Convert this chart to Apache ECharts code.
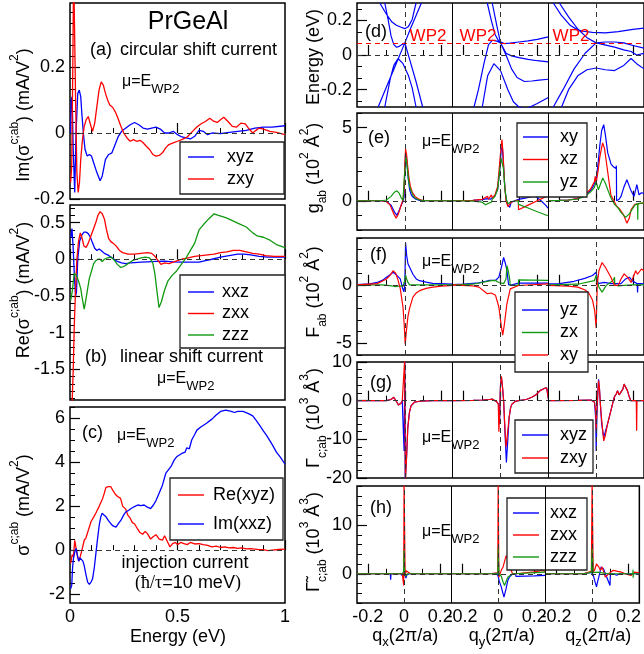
<!DOCTYPE html>
<html>
<head>
<meta charset="utf-8">
<script src="https://cdn.jsdelivr.net/npm/echarts@6.0.0/dist/echarts.min.js"></script>
<style>
  html, body { margin: 0; padding: 0; background: #fff; }
  #chart { width: 644px; height: 654px; }
</style>
</head>
<body>
<div id="chart"></div>
<script>
// ---------- tick values ----------
const energyTicks = [0, 0.5, 1];
const imTicks = [-0.2, 0, 0.2];
const reTicks = [-1.5, -1, -0.5, 0, 0.5];
const injTicks = [-2, 0, 2, 4, 6];
const bandTicks = [-0.2, 0, 0.2];
const gTicks = [0, 5];
const fTicks = [-5, 0];
const gammaTicks = [-20, -10, 0, 10];
const gammaTildeTicks = [0, 10];
const qTicks = [-0.2, 0, 0.2];
const qMinor = [-0.1, 0.1];
const cutNames = ['x', 'y', 'z'];
const wp2Energy = 0.07;

// ---------- (a) circular shift current, [E (eV), value] ----------
const aXyz = [[0.002,0.0],[0.006,0.1],[0.01,0.11],[0.015,-0.05],[0.022,-0.18],[0.028,0.0],[0.036,0.12],[0.043,0.13],[0.05,0.11],[0.055,0.06],[0.062,0.0],[0.07,-0.05],[0.08,-0.07],[0.09,-0.065],[0.1,-0.07],[0.11,-0.09],[0.125,-0.12],[0.14,-0.145],[0.15,-0.13],[0.165,-0.08],[0.18,-0.065],[0.195,-0.06],[0.21,-0.035],[0.225,-0.01],[0.24,0.005],[0.26,0.015],[0.28,0.025],[0.3,0.032],[0.32,0.025],[0.34,0.015],[0.36,0.012],[0.38,0.015],[0.4,0.018],[0.42,0.012],[0.44,0.0],[0.46,0.0],[0.48,0.005],[0.5,-0.005],[0.52,-0.012],[0.54,-0.015],[0.56,-0.018],[0.58,-0.01],[0.6,0.008],[0.62,0.005],[0.64,-0.005],[0.66,0.0],[0.7,-0.002],[0.74,0.002],[0.78,0.005],[0.82,0.008],[0.86,0.015],[0.9,0.018],[0.94,0.018],[1.0,0.022]];
const aZxy = [[0.003,-0.15],[0.008,-0.1],[0.013,0.2],[0.017,0.5],[0.021,0.5],[0.026,0.1],[0.032,-0.12],[0.038,-0.18],[0.044,-0.15],[0.05,-0.08],[0.058,-0.02],[0.066,0.02],[0.075,0.04],[0.085,0.05],[0.092,0.045],[0.1,0.015],[0.105,0.005],[0.115,0.03],[0.125,0.08],[0.135,0.13],[0.145,0.155],[0.155,0.145],[0.165,0.12],[0.175,0.1],[0.185,0.085],[0.198,0.078],[0.21,0.065],[0.22,0.05],[0.237,0.02],[0.25,0.0],[0.265,-0.015],[0.28,-0.025],[0.295,-0.02],[0.31,-0.025],[0.325,-0.022],[0.338,-0.028],[0.355,-0.04],[0.37,-0.05],[0.385,-0.065],[0.4,-0.07],[0.415,-0.068],[0.43,-0.06],[0.445,-0.045],[0.46,-0.035],[0.48,-0.03],[0.5,-0.025],[0.52,-0.02],[0.545,-0.012],[0.57,0.005],[0.59,0.018],[0.61,0.028],[0.63,0.035],[0.65,0.045],[0.67,0.035],[0.685,0.032],[0.7,0.04],[0.715,0.048],[0.735,0.035],[0.755,0.02],[0.775,0.018],[0.795,0.03],[0.815,0.028],[0.83,0.015],[0.85,0.0],[0.865,0.008],[0.88,0.015],[0.9,0.012],[0.93,0.005],[0.96,0.002],[1.0,-0.005]];

// ---------- (b) linear shift current ----------
const bXxz = [[0.004,0.3],[0.009,0.42],[0.014,0.2],[0.02,-0.2],[0.026,-0.5],[0.03,-0.45],[0.036,0.0],[0.045,0.25],[0.055,0.33],[0.065,0.37],[0.075,0.37],[0.085,0.35],[0.095,0.3],[0.105,0.22],[0.115,0.15],[0.125,0.12],[0.135,0.14],[0.145,0.12],[0.16,0.08],[0.175,0.06],[0.19,0.03],[0.205,0.0],[0.22,-0.03],[0.24,-0.05],[0.26,-0.06],[0.28,-0.05],[0.3,-0.045],[0.33,-0.04],[0.36,-0.035],[0.4,-0.03],[0.44,-0.025],[0.48,-0.035],[0.52,-0.04],[0.56,-0.04],[0.6,-0.04],[0.63,-0.02],[0.66,0.0],[0.7,0.03],[0.74,0.05],[0.78,0.07],[0.81,0.07],[0.84,0.06],[0.88,0.04],[0.92,0.03],[0.96,0.03],[1.0,0.03]];
const bZxx = [[0.01,-1.95],[0.015,-1.5],[0.02,-0.9],[0.026,-0.4],[0.032,0.0],[0.04,0.25],[0.048,0.36],[0.055,0.3],[0.065,0.18],[0.075,0.16],[0.085,0.22],[0.095,0.3],[0.11,0.42],[0.12,0.5],[0.13,0.6],[0.14,0.65],[0.15,0.62],[0.16,0.55],[0.17,0.4],[0.18,0.28],[0.19,0.24],[0.2,0.22],[0.215,0.18],[0.23,0.12],[0.245,0.09],[0.27,0.07],[0.3,0.07],[0.33,0.08],[0.36,0.09],[0.38,0.08],[0.395,0.04],[0.41,-0.02],[0.423,-0.07],[0.44,-0.05],[0.46,-0.06],[0.48,-0.04],[0.5,-0.02],[0.52,0.0],[0.55,0.02],[0.58,0.04],[0.61,0.05],[0.64,0.06],[0.67,0.07],[0.7,0.09],[0.73,0.1],[0.76,0.12],[0.79,0.12],[0.82,0.1],[0.85,0.08],[0.88,0.07],[0.91,0.05],[0.95,0.04],[1.0,0.04]];
const bZzz = [[0.003,-0.56],[0.01,-0.45],[0.02,-0.19],[0.03,-0.22],[0.04,-0.3],[0.05,-0.4],[0.058,-0.55],[0.066,-0.68],[0.074,-0.55],[0.082,-0.4],[0.09,-0.26],[0.098,-0.18],[0.11,-0.06],[0.12,-0.02],[0.13,0.0],[0.14,0.0],[0.15,-0.03],[0.16,0.0],[0.175,0.02],[0.19,0.03],[0.205,-0.01],[0.22,-0.07],[0.235,-0.11],[0.25,-0.1],[0.27,-0.06],[0.29,-0.02],[0.31,0.0],[0.33,0.02],[0.35,0.03],[0.37,0.02],[0.385,-0.05],[0.395,-0.2],[0.405,-0.45],[0.414,-0.66],[0.425,-0.58],[0.44,-0.42],[0.455,-0.3],[0.475,-0.22],[0.496,-0.16],[0.515,-0.08],[0.54,0.02],[0.56,0.12],[0.58,0.22],[0.6,0.4],[0.62,0.47],[0.645,0.55],[0.67,0.62],[0.69,0.6],[0.71,0.58],[0.73,0.56],[0.76,0.52],[0.79,0.48],[0.82,0.44],[0.85,0.36],[0.87,0.32],[0.9,0.3],[0.93,0.26],[0.96,0.2],[1.0,0.16]];

// ---------- (c) injection current ----------
const cReXyz = [[0.003,-0.6],[0.01,-0.2],[0.016,-0.3],[0.022,0.45],[0.028,0.1],[0.035,-0.3],[0.042,-0.5],[0.05,-0.2],[0.058,0.1],[0.066,0.45],[0.074,0.55],[0.085,0.9],[0.098,1.3],[0.11,1.5],[0.121,1.7],[0.136,2.0],[0.152,2.35],[0.16,2.6],[0.167,2.85],[0.18,2.88],[0.19,2.88],[0.2,2.7],[0.21,2.55],[0.22,2.45],[0.235,2.35],[0.245,2.0],[0.26,1.85],[0.268,1.6],[0.28,1.45],[0.29,1.25],[0.3,1.2],[0.315,0.95],[0.325,0.8],[0.338,0.72],[0.35,0.85],[0.36,0.75],[0.375,0.5],[0.385,0.6],[0.4,0.7],[0.415,0.5],[0.43,0.45],[0.44,0.65],[0.455,0.35],[0.465,0.15],[0.477,0.3],[0.49,0.35],[0.5,0.25],[0.515,0.35],[0.53,0.3],[0.545,0.25],[0.56,0.35],[0.58,0.28],[0.6,0.3],[0.62,0.25],[0.64,0.22],[0.66,0.15],[0.68,0.18],[0.7,0.12],[0.72,0.15],[0.74,0.1],[0.76,0.12],[0.78,0.08],[0.8,0.1],[0.82,0.06],[0.84,0.07],[0.86,0.05],[0.88,0.02],[0.9,0.02],[0.92,-0.02],[0.94,0.0],[0.97,0.03],[1.0,0.05]];
const cImXxz = [[0.003,-1.75],[0.008,-1.6],[0.012,-0.8],[0.016,-0.38],[0.022,-0.1],[0.028,0.08],[0.034,-0.2],[0.04,-0.5],[0.046,-0.35],[0.052,-0.3],[0.06,-0.5],[0.066,-0.7],[0.074,-1.1],[0.082,-1.45],[0.09,-1.55],[0.098,-1.45],[0.105,-1.3],[0.113,-0.8],[0.121,-0.1],[0.128,0.5],[0.136,1.14],[0.143,1.5],[0.149,1.67],[0.158,1.6],[0.167,1.52],[0.178,1.35],[0.19,1.2],[0.2,1.1],[0.214,1.05],[0.225,1.2],[0.237,1.36],[0.25,1.6],[0.26,1.74],[0.272,1.8],[0.284,1.89],[0.3,1.98],[0.315,2.05],[0.33,2.02],[0.345,2.05],[0.36,1.95],[0.375,1.89],[0.388,2.05],[0.4,2.25],[0.415,2.6],[0.43,2.95],[0.44,3.3],[0.446,3.5],[0.455,3.45],[0.47,3.8],[0.485,4.1],[0.496,4.24],[0.505,4.15],[0.52,4.39],[0.535,4.45],[0.543,4.65],[0.555,4.6],[0.566,5.0],[0.58,5.25],[0.59,5.45],[0.61,5.6],[0.635,5.76],[0.66,5.95],[0.68,6.14],[0.7,6.3],[0.725,6.36],[0.75,6.3],[0.765,6.25],[0.78,6.3],[0.805,6.3],[0.83,6.2],[0.85,6.1],[0.865,5.9],[0.88,5.7],[0.9,5.4],[0.915,5.2],[0.94,4.8],[0.96,4.45],[0.98,4.2],[1.0,3.9]];

// ---------- (d) bands along qx, qy, qz, each band [[q, E (eV)], ...] ----------
const bandsQx = [
  [[-0.136,0.3],[-0.1,0.235],[-0.07,0.19],[-0.046,0.172],[-0.02,0.16],[0,0.152],[0.02,0.165],[0.04,0.205],[0.061,0.3]],
  [[-0.145,-0.3],[-0.1,-0.185],[-0.05,-0.058],[0,0.07],[0.03,0.15],[0.06,0.225],[0.09,0.3]],
  [[-0.109,0.3],[-0.09,0.2],[-0.075,0.11],[-0.06,0.06],[-0.045,0.045],[-0.03,0.05],[-0.015,0.06],[0,0.07],[0.03,-0.04],[0.06,-0.15],[0.097,-0.3]],
  [[-0.109,-0.3],[-0.08,-0.14],[-0.06,-0.06],[-0.037,-0.02],[-0.01,-0.05],[0.02,-0.12],[0.04,-0.19],[0.061,-0.3]]
];
const bandsQy = [
  [[-0.072,0.3],[-0.05,0.2],[-0.03,0.12],[-0.01,0.08],[0.02,0.066],[0.05,0.068],[0.1,0.075],[0.15,0.082],[0.2,0.09],[0.26,0.105]],
  [[-0.045,0.3],[-0.02,0.17],[0,0.07],[0.03,0.01],[0.06,-0.005],[0.1,-0.015],[0.15,-0.025],[0.2,-0.033],[0.26,-0.04]],
  [[-0.144,-0.3],[-0.12,-0.2],[-0.09,-0.05],[-0.065,0.06],[-0.045,0.085],[-0.02,0.08],[0,0.07],[0.03,0.0],[0.06,-0.08],[0.09,-0.13],[0.13,-0.153],[0.17,-0.15],[0.21,-0.145],[0.26,-0.14]],
  [[-0.099,-0.3],[-0.07,-0.12],[-0.036,-0.05],[0,-0.09],[0.04,-0.2],[0.07,-0.27],[0.1,-0.3],[0.14,-0.31],[0.2,-0.28],[0.26,-0.245]]
];
const bandsQz = [
  [[-0.233,0.3],[-0.19,0.23],[-0.14,0.17],[-0.1,0.145],[-0.07,0.137],[-0.02,0.13],[0.05,0.128],[0.12,0.135],[0.2,0.148],[0.26,0.155]],
  [[-0.2,0.3],[-0.15,0.22],[-0.1,0.15],[-0.05,0.1],[0,0.07],[0.04,0.06],[0.1,0.045],[0.15,0.03],[0.19,0.02],[0.22,0.0],[0.26,0.01]],
  [[-0.233,-0.3],[-0.18,-0.2],[-0.12,-0.08],[-0.06,0.01],[0,0.07],[0.05,0.075],[0.1,0.075],[0.15,0.07],[0.2,0.055],[0.26,0.04]],
  [[-0.188,-0.3],[-0.15,-0.2],[-0.1,-0.12],[-0.05,-0.085],[0,-0.075],[0.05,-0.085],[0.1,-0.09],[0.15,-0.06],[0.19,-0.02],[0.22,-0.05],[0.26,-0.08]]
];

// ---------- (e) g_ab along qx, qy, qz ----------
const eXy = [
  [[-0.26,0],[-0.14,0],[-0.1,-0.05],[-0.075,-0.3],[-0.055,-0.8],[-0.043,-1.0],[-0.032,-0.7],[-0.02,-0.3],[-0.01,-0.05],[-0.004,0.3],[0.0,2.0],[0.004,3.2],[0.01,2.8],[0.018,1.6],[0.026,0.75],[0.035,0.4],[0.044,0.25],[0.06,0.1],[0.08,0.03],[0.12,0],[0.26,0]],
  [[-0.26,0],[-0.15,0.02],[-0.1,0.08],[-0.07,0.15],[-0.055,0.1],[-0.045,0.2],[-0.03,0.35],[-0.015,0.8],[-0.005,2.0],[0.004,3.5],[0.01,3.7],[0.016,2.5],[0.024,0.8],[0.032,0.0],[0.04,-0.3],[0.05,-0.45],[0.058,-0.1],[0.068,0.0],[0.098,0.1],[0.14,0.2],[0.188,0.34],[0.22,0.0],[0.245,-0.3],[0.258,-0.5]],
  [[-0.26,0],[-0.2,0.02],[-0.15,0.05],[-0.1,0.15],[-0.062,0.4],[-0.03,0.7],[-0.015,1.0],[-0.005,1.3],[0.0,1.5],[0.01,2.5],[0.02,3.8],[0.03,4.8],[0.041,5.2],[0.05,4.5],[0.063,3.27],[0.081,2.5],[0.095,2.3],[0.108,2.2],[0.11,2.4],[0.111,0.0],[0.125,0.1],[0.135,0.3],[0.15,0.9],[0.167,1.44],[0.18,1.0],[0.189,0.7],[0.206,0.3],[0.221,1.1],[0.233,0.4],[0.246,0.55],[0.26,0.5]]
];
const eXz = [
  [[-0.26,0],[-0.13,0],[-0.1,-0.05],[-0.08,-0.3],[-0.06,-0.9],[-0.047,-1.19],[-0.035,-0.9],[-0.022,-0.4],[-0.012,0.0],[-0.005,0.5],[0.0,2.5],[0.004,3.55],[0.01,3.1],[0.016,2.3],[0.022,1.6],[0.03,1.0],[0.04,0.6],[0.055,0.3],[0.07,0.15],[0.09,0.05],[0.12,0],[0.26,0]],
  [[-0.26,0],[-0.15,0.02],[-0.1,0.1],[-0.07,0.3],[-0.065,0.1],[-0.05,0.4],[-0.045,0.5],[-0.044,0.2],[-0.03,0.4],[-0.015,1.0],[-0.005,2.5],[0.004,3.8],[0.008,4.18],[0.014,3.2],[0.022,1.2],[0.03,0.0],[0.04,-0.4],[0.05,-0.5],[0.058,-0.1],[0.068,0.0],[0.097,0.05],[0.098,-0.62],[0.15,-0.3],[0.2,0.0],[0.25,0.3],[0.258,0.5]],
  [[-0.26,0],[-0.2,0.02],[-0.15,0.05],[-0.1,0.15],[-0.062,0.4],[-0.03,0.8],[-0.01,1.3],[-0.005,1.67],[0.0,1.2],[0.01,2.0],[0.02,3.0],[0.035,3.95],[0.045,3.6],[0.055,2.7],[0.07,1.3],[0.08,0.4],[0.1,-0.1],[0.11,-0.35],[0.13,-0.6],[0.15,-1.0],[0.167,-1.53],[0.18,-1.2],[0.19,-0.6],[0.21,-0.25],[0.235,-0.2],[0.26,-0.15]]
];
const eYz = [
  [[-0.26,0],[-0.13,0],[-0.1,0.05],[-0.075,0.3],[-0.055,0.6],[-0.043,0.68],[-0.03,0.5],[-0.02,0.2],[-0.01,0.05],[-0.004,0.1],[-0.003,1.5],[0.0,2.0],[0.006,3.0],[0.012,2.4],[0.02,1.4],[0.03,0.8],[0.045,0.35],[0.06,0.15],[0.08,0.05],[0.12,0],[0.26,0]],
  [[-0.26,0],[-0.15,-0.03],[-0.1,-0.1],[-0.081,-0.27],[-0.07,-0.2],[-0.05,-0.1],[-0.045,0.1],[-0.03,0.3],[-0.015,0.8],[-0.005,2.0],[0.004,2.9],[0.01,3.0],[0.016,2.2],[0.024,0.8],[0.032,0.1],[0.04,-0.2],[0.05,-0.3],[0.058,-0.05],[0.068,0.0],[0.097,0.0],[0.098,-0.25],[0.15,-0.5],[0.2,-0.75],[0.258,-1.03]],
  [[-0.26,0],[-0.2,0.02],[-0.15,0.05],[-0.1,0.12],[-0.062,0.3],[-0.03,0.6],[-0.01,0.9],[0.0,1.3],[0.012,0.75],[0.025,1.2],[0.036,1.55],[0.05,1.2],[0.063,0.75],[0.08,0.2],[0.1,-0.25],[0.12,-0.5],[0.135,-0.8],[0.16,-1.14],[0.18,-0.9],[0.195,-0.6],[0.21,-0.3],[0.225,-0.2],[0.226,-1.3],[0.227,-0.2],[0.26,-0.15]]
];

// ---------- (f) F_ab ----------
const fYz = [
  [[-0.26,0.02],[-0.19,0.08],[-0.15,0.2],[-0.12,0.4],[-0.1,0.65],[-0.08,0.85],[-0.064,1.07],[-0.05,0.9],[-0.037,0.7],[-0.025,0.5],[-0.012,-0.3],[-0.005,-0.6],[0.0,0.0],[0.004,3.6],[0.01,2.5],[0.017,1.8],[0.026,1.5],[0.044,0.9],[0.062,0.5],[0.08,0.35],[0.116,0.23],[0.152,0.12],[0.223,0.08],[0.26,0.05]],
  [[-0.26,0.02],[-0.2,0.05],[-0.117,0.17],[-0.063,0.37],[-0.027,0.37],[-0.009,0.65],[0.005,1.5],[0.017,2.35],[0.027,1.8],[0.035,1.2],[0.044,0.0],[0.062,0.0],[0.098,0.14],[0.2,0.14],[0.26,0.14]],
  [[-0.26,0.08],[-0.2,0.1],[-0.12,0.3],[-0.062,0.55],[-0.02,0.8],[0.0,1.07],[0.01,0.1],[0.045,0.2],[0.08,0.1],[0.135,0.1],[0.16,0.5],[0.18,0.65],[0.2,0.3],[0.223,0.1],[0.225,-0.65],[0.227,0.1],[0.246,0.1],[0.26,0.05]]
];
const fZx = [
  [[-0.26,0],[-0.12,0],[-0.07,-0.1],[-0.05,-0.15],[-0.03,-0.1],[-0.01,-0.12],[0.0,0.4],[0.004,0.8],[0.01,0.5],[0.017,0.2],[0.026,0.0],[0.26,0]],
  [[-0.26,0],[-0.15,0.05],[-0.05,0.35],[-0.027,0.37],[-0.009,0.2],[0.017,0.1],[0.03,0.5],[0.035,1.64],[0.042,1.2],[0.05,0.5],[0.053,-0.05],[0.097,-0.05],[0.098,0.42],[0.26,0.37]],
  [[-0.26,0],[-0.1,0.05],[-0.01,0.35],[0.0,0.8],[0.015,-0.2],[0.032,-0.62],[0.055,-0.05],[0.09,0.35],[0.1,0.65],[0.101,0.0],[0.12,-0.1],[0.15,-0.05],[0.2,0.0],[0.26,0.0]]
];
const fXy = [
  [[-0.26,0],[-0.15,0.1],[-0.1,0.5],[-0.08,0.8],[-0.064,1.2],[-0.05,1.0],[-0.037,0.4],[-0.025,-0.3],[-0.01,-1.9],[-0.003,-3.5],[0.002,-5.1],[0.008,-4.0],[0.017,-2.7],[0.026,-2.0],[0.044,-1.05],[0.062,-0.7],[0.08,-0.5],[0.116,-0.3],[0.152,-0.2],[0.2,-0.12],[0.26,-0.05]],
  [[-0.26,0],[-0.15,-0.1],[-0.117,-0.2],[-0.072,-0.76],[-0.063,-0.6],[-0.05,-0.7],[-0.027,-0.9],[-0.009,-1.9],[0.005,-3.6],[0.012,-4.3],[0.02,-3.5],[0.035,-1.6],[0.053,-0.35],[0.098,-0.06],[0.26,0.08]],
  [[-0.26,-0.05],[-0.15,-0.12],[-0.1,-0.2],[-0.06,-0.45],[-0.04,-0.7],[-0.02,-1.3],[-0.008,-2.2],[0.0,-3.7],[0.006,0.1],[0.015,1.2],[0.032,1.9],[0.05,1.5],[0.08,0.65],[0.1,-0.05],[0.12,-0.05],[0.135,0.5],[0.152,0.93],[0.17,0.65],[0.19,0.2],[0.215,1.2],[0.225,0.9],[0.246,1.35],[0.26,1.2]]
];

// ---------- (g) Gamma_c;ab ----------
const gXyz = [
  [[-0.26,0],[-0.1,0],[-0.075,0.3],[-0.06,0.87],[-0.05,0.5],[-0.043,-0.4],[-0.035,-1.1],[-0.028,-1.3],[-0.02,-0.6],[-0.014,0],[-0.006,-0.2],[-0.004,-13],[-0.002,-13],[0.0,10],[0.002,-21],[0.006,-21],[0.01,-14],[0.016,-7],[0.025,-3],[0.034,-1.3],[0.052,-0.4],[0.08,-0.15],[0.15,0],[0.26,0]],
  [[-0.26,0],[-0.15,0.05],[-0.099,0.17],[-0.06,0.3],[-0.045,0.4],[-0.03,0.0],[-0.018,-0.4],[-0.01,-1],[-0.009,-4],[-0.005,-6],[0.0,4],[0.005,6],[0.01,4],[0.017,0],[0.024,-8],[0.032,-16],[0.04,-10],[0.047,-4.3],[0.055,-1.8],[0.062,-0.9],[0.08,-0.2],[0.098,0],[0.14,0.3],[0.17,0.87],[0.195,1.6],[0.215,2.6],[0.235,3.1],[0.251,3.3],[0.255,3.0],[0.26,0.5]],
  [[-0.26,0],[-0.1,0.05],[-0.027,0.17],[-0.009,-0.4],[-0.002,-5],[0.0,-13],[0.004,-4],[0.009,2],[0.013,5.5],[0.018,3],[0.023,-1],[0.03,-6],[0.041,-9.5],[0.05,-8],[0.062,-6],[0.08,-2.6],[0.098,0.87],[0.11,1.8],[0.116,2.6],[0.125,1.5],[0.134,1.3],[0.145,3],[0.152,4.3],[0.16,3.5],[0.17,2.6],[0.18,1.0],[0.188,0.0],[0.26,0]]
];
const gZxy = [
  [[-0.26,0],[-0.1,0],[-0.075,0.3],[-0.06,0.87],[-0.05,0.5],[-0.043,-0.4],[-0.035,-1.1],[-0.028,-1.3],[-0.02,-0.6],[-0.014,0],[-0.005,-0.5],[-0.001,10.5],[0.0,10.5],[0.003,-21],[0.007,-21],[0.01,-14],[0.016,-7],[0.025,-3],[0.034,-1.3],[0.052,-0.4],[0.08,-0.15],[0.15,0],[0.26,0]],
  [[-0.26,0],[-0.15,0.05],[-0.099,0.17],[-0.06,0.3],[-0.045,0.4],[-0.03,0.0],[-0.018,-0.4],[-0.012,-1],[-0.009,-8],[-0.005,-4],[0.0,4],[0.005,6.3],[0.01,4],[0.017,0],[0.024,-7],[0.03,-12],[0.037,-9],[0.047,-4.3],[0.055,-1.8],[0.062,-0.9],[0.08,-0.2],[0.098,0],[0.14,0.3],[0.17,0.87],[0.195,1.6],[0.215,2.6],[0.235,3.1],[0.251,3.3],[0.255,3.0],[0.26,0.5]],
  [[-0.26,0],[-0.1,0.05],[-0.027,0.17],[-0.009,-0.4],[-0.002,-3],[0.0,-7.8],[0.004,-2],[0.009,2],[0.013,5.2],[0.018,3],[0.023,-1],[0.03,-5],[0.041,-10.4],[0.05,-9],[0.062,-6],[0.08,-2.6],[0.098,0.87],[0.11,1.8],[0.116,2.6],[0.125,1.5],[0.134,1.3],[0.145,3],[0.152,4.3],[0.16,3.5],[0.17,2.6],[0.18,1.0],[0.188,0.0],[0.218,0],[0.22,-7.8],[0.222,0.0],[0.26,0]]
];

// ---------- (h) Gamma-tilde_c;ab ----------
const hXxz = [
  [[-0.26,0],[-0.076,0],[-0.074,-1.2],[-0.072,0],[-0.02,0],[-0.005,-0.5],[0.0,0.8],[0.004,0.0],[0.01,-0.9],[0.016,-0.2],[0.03,0],[0.26,0]],
  [[-0.26,0],[-0.05,0],[-0.01,0.1],[-0.002,0.3],[0.0,-0.5],[0.005,-1.4],[0.017,-2.7],[0.032,-4.8],[0.044,-3.0],[0.053,-1.4],[0.062,-0.7],[0.08,0],[0.097,0],[0.098,-0.55],[0.2,-0.45],[0.26,-0.35]],
  [[-0.26,0],[-0.05,0],[-0.005,0.3],[0.0,0.5],[0.005,-0.3],[0.009,-0.7],[0.023,-2.7],[0.03,-1.5],[0.036,-0.7],[0.049,1.4],[0.054,1.0],[0.062,1.0],[0.08,-0.7],[0.098,-2.4],[0.1,0],[0.116,0],[0.135,-0.3],[0.143,-0.7],[0.15,0],[0.26,0]]
];
const hZxx = [
  [[-0.26,0],[-0.03,0],[-0.01,0],[-0.002,-2.4],[0.0,19],[0.003,19],[0.006,-0.5],[0.012,0.6],[0.02,0.3],[0.035,0],[0.26,0]],
  [[-0.26,0],[-0.05,0],[-0.002,0.2],[0.0,19],[0.002,19],[0.004,-0.7],[0.017,0.7],[0.027,1.4],[0.044,3.7],[0.053,3.0],[0.062,1.4],[0.08,0],[0.097,0],[0.098,0.35],[0.2,0.4],[0.245,0.7],[0.26,0.5]],
  [[-0.26,0],[-0.05,0],[-0.005,0.5],[-0.001,19],[0.001,19],[0.005,0.2],[0.015,1.0],[0.023,2.0],[0.03,1.7],[0.036,1.4],[0.045,0.7],[0.054,1.4],[0.072,-0.7],[0.09,0],[0.116,0.7],[0.16,0.35],[0.188,-0.1],[0.215,-0.35],[0.233,0.35],[0.26,0.2]]
];
const hZzz = [
  [[-0.26,0],[-0.01,0],[-0.002,0.5],[0.0,4.8],[0.003,0.5],[0.01,-0.5],[0.02,0],[0.26,0]],
  [[-0.26,0],[-0.05,0],[-0.002,0],[0.0,5.1],[0.002,5.1],[0.004,0],[0.017,-0.5],[0.027,-1.7],[0.035,-2.4],[0.053,-0.7],[0.08,0],[0.097,0],[0.098,0.2],[0.26,0.35]],
  [[-0.26,0],[-0.05,0],[-0.005,0.3],[-0.001,5.1],[0.001,5.1],[0.005,0.2],[0.027,0.35],[0.09,0],[0.224,0],[0.225,0.8],[0.226,-0.8],[0.227,0],[0.26,0]]
];

// ---------- styling and helpers ----------
const FONT = 'Liberation Sans';
const BLUE = '#0000ff', RED = '#ff0000', GREEN = '#119a11';
const SEG = 0.52;                                  // span of one q cut on the shared axis
const segU = (s, q) => +(s * SEG + SEG / 2 + q).toFixed(6);

function steps(min, max, step) {
  const v = [];
  for (let k = Math.ceil(min / step - 1e-9); k * step <= max + 1e-9; k++) v.push(+(k * step).toFixed(6));
  return v;
}
function fmtNum(v) { const r = Math.round(v * 1000) / 1000; return r === 0 ? '0' : String(r); }
function fmtQ(u) {
  const s = Math.min(2, Math.floor(u / SEG + 1e-6));
  const q = Math.round((u - s * SEG - SEG / 2) * 10) / 10;
  return q === 0 ? '0' : String(q);
}
function cutData(segs) {
  const out = [];
  segs.forEach((pts, s) => {
    if (s) out.push([s * SEG, '-']);
    pts.forEach(p => out.push([segU(s, p[0]), p[1]]));
  });
  return out;
}
function bandData(groups) {
  const out = [];
  groups.forEach((bands, s) => bands.forEach(b => {
    if (out.length) out.push([segU(s, b[0][0]), '-']);
    b.forEach(p => out.push([segU(s, p[0]), p[1]]));
  }));
  return out;
}

// ---------- layout ----------
const grids = [
  { left: 70, top: 3, width: 215, height: 196 },
  { left: 70, top: 205, width: 215, height: 195 },
  { left: 70, top: 407, width: 215, height: 196 },
  { left: 357, top: 3, width: 289.5, height: 104 },
  { left: 357, top: 113, width: 289.5, height: 117 },
  { left: 357, top: 238, width: 289.5, height: 117 },
  { left: 357, top: 362, width: 289.5, height: 116 },
  { left: 357, top: 486, width: 289.5, height: 117 }
].map(g => Object.assign(g, { show: true, borderColor: '#000', borderWidth: 1.5, backgroundColor: 'transparent' }));

const xAxes = [], yAxes = [];
function addAxis(list, grid, dim, o) {
  const base = { type: 'value', gridIndex: grid, min: o.min, max: o.max,
    position: dim === 'x' ? 'bottom' : 'left',
    axisLine: { show: false }, splitLine: { show: false } };
  list.push(Object.assign({}, base, {
    axisTick: { show: true, inside: true, length: 10, customValues: o.major, lineStyle: { color: '#000', width: 1.2 } },
    axisLabel: { show: !!o.labels, customValues: o.labels || [], formatter: o.fmt || fmtNum,
      margin: 5, fontSize: 18, fontFamily: FONT, color: '#000' }
  }));
  list.push(Object.assign({}, base, {
    axisTick: { show: true, inside: true, length: 5, customValues: o.minor, lineStyle: { color: '#000', width: 1 } },
    axisLabel: { show: false }
  }));
}

// left column: energy axis
for (let i = 0; i < 3; i++) {
  addAxis(xAxes, i, 'x', { min: 0, max: 1, major: energyTicks, minor: steps(0, 1, 0.1), labels: i === 2 ? energyTicks : null });
}
// right column: three q cuts side by side
const qMajorU = [], qMinorU = [];
for (let s = 0; s < 3; s++) {
  qTicks.forEach(q => qMajorU.push(segU(s, q)));
  qMinor.forEach(q => qMinorU.push(segU(s, q)));
}
for (let i = 3; i < 8; i++) {
  addAxis(xAxes, i, 'x', { min: 0, max: 3 * SEG, major: qMajorU, minor: qMinorU, labels: i === 7 ? qMajorU : null, fmt: fmtQ });
}
addAxis(yAxes, 0, 'y', { min: -0.2, max: 0.394, major: imTicks, minor: steps(-0.2, 0.394, 0.2 / 6), labels: imTicks });
addAxis(yAxes, 1, 'y', { min: -1.92, max: 0.74, major: reTicks, minor: steps(-1.92, 0.74, 0.1), labels: reTicks });
addAxis(yAxes, 2, 'y', { min: -2.4, max: 6.5, major: injTicks, minor: steps(-2.4, 6.5, 0.5), labels: injTicks });
addAxis(yAxes, 3, 'y', { min: -0.3, max: 0.3, major: bandTicks, minor: steps(-0.3, 0.3, 0.2 / 3), labels: bandTicks });
addAxis(yAxes, 4, 'y', { min: -2, max: 6, major: gTicks, minor: steps(-2, 6, 1), labels: gTicks });
addAxis(yAxes, 5, 'y', { min: -6, max: 4, major: fTicks, minor: steps(-6, 4, 1), labels: fTicks });
addAxis(yAxes, 6, 'y', { min: -20, max: 10, major: gammaTicks, minor: steps(-20, 10, 2), labels: gammaTicks });
addAxis(yAxes, 7, 'y', { min: -6, max: 18, major: gammaTildeTicks, minor: steps(-6, 18, 2), labels: gammaTildeTicks });

// ---------- guide lines ----------
const dash = { type: [5, 4], color: '#333', width: 1 };
function guides(data) {
  return { silent: true, symbol: ['none', 'none'], label: { show: false }, animation: false, data };
}
const zeroLine = { yAxis: 0, lineStyle: dash };
const cutGuides = [0, 1, 2].map(s => ({ xAxis: segU(s, 0), lineStyle: dash }))
  .concat([1, 2].map(s => ({ xAxis: s * SEG, lineStyle: { type: 'solid', color: '#000', width: 1 } })));

// ---------- series ----------
const series = [];
function line(panel, name, data, color, marks, width) {
  const s = { type: 'line', name, data, xAxisIndex: 2 * panel, yAxisIndex: 2 * panel,
    symbol: 'none', showSymbol: false, animation: false, silent: true,
    lineStyle: { color, width: width || 1.3 }, itemStyle: { color }, z: 3 };
  if (marks) s.markLine = guides(marks);
  series.push(s);
}
line(0, 'a:xyz', aXyz, BLUE, [zeroLine]);
line(0, 'a:zxy', aZxy, RED);
line(1, 'b:xxz', bXxz, BLUE, [zeroLine]);
line(1, 'b:zxx', bZxx, RED);
line(1, 'b:zzz', bZzz, GREEN);
line(2, 'c:Re(xyz)', cReXyz, RED, [zeroLine]);
line(2, 'c:Im(xxz)', cImXxz, BLUE);
line(3, 'd:bands', bandData([bandsQx, bandsQy, bandsQz]), BLUE,
  [zeroLine, { yAxis: wp2Energy, lineStyle: { type: [5, 4], color: RED, width: 1.2 } }].concat(cutGuides), 1.2);
line(4, 'e:xy', cutData(eXy), BLUE, [zeroLine].concat(cutGuides), 1.2);
line(4, 'e:xz', cutData(eXz), RED, null, 1.2);
line(4, 'e:yz', cutData(eYz), GREEN, null, 1.2);
line(5, 'f:yz', cutData(fYz), BLUE, [zeroLine].concat(cutGuides), 1.2);
line(5, 'f:zx', cutData(fZx), GREEN, null, 1.2);
line(5, 'f:xy', cutData(fXy), RED, null, 1.2);
line(6, 'g:xyz', cutData(gXyz), BLUE, [zeroLine].concat(cutGuides), 1.2);
line(6, 'g:zxy', cutData(gZxy), RED, null, 1.2);
line(7, 'h:xxz', cutData(hXxz), BLUE, [zeroLine].concat(cutGuides), 1.2);
line(7, 'h:zxx', cutData(hZxx), RED, null, 1.2);
line(7, 'h:zzz', cutData(hZzz), GREEN, null, 1.2);

// ---------- legends ----------
function legend(names, box) {
  return {
    data: names, orient: 'vertical', left: box.left, top: box.top, padding: box.pad,
    icon: 'path://M0,0H26V1.4H0Z', symbolKeepAspect: true,
    itemWidth: 26, itemHeight: box.ih, itemGap: box.gap, selectedMode: false,
    backgroundColor: '#fff', borderColor: '#222', borderWidth: 1.3, borderRadius: 0,
    formatter: n => n.slice(2),
    textStyle: { fontSize: 18, fontFamily: FONT, color: '#000', lineHeight: box.ih, padding: [0, 0, 0, box.tp] }
  };
}
const legends = [
  legend(['a:xyz', 'a:zxy'], { left: 180, top: 142, pad: [6, 30, 6, 8], ih: 14, gap: 4, tp: 8 }),
  legend(['b:xxz', 'b:zxx', 'b:zzz'], { left: 180, top: 275, pad: [8, 36, 4, 8], ih: 12, gap: 3.5, tp: 3 }),
  legend(['c:Re(xyz)', 'c:Im(xxz)'], { left: 170, top: 478, pad: [8, 8, 7, 8], ih: 14, gap: 11, tp: 4 }),
  legend(['e:xy', 'e:xz', 'e:yz'], { left: 517, top: 123, pad: [5, 9, 6, 6], ih: 14, gap: 4.5, tp: 6 }),
  legend(['f:yz', 'f:zx', 'f:xy'], { left: 515, top: 292, pad: [9, 10, 8, 7], ih: 12, gap: 4.5, tp: 7 }),
  legend(['g:xyz', 'g:zxy'], { left: 515, top: 420, pad: [6, 6, 6, 7], ih: 14, gap: 5, tp: 7 }),
  legend(['h:xxz', 'h:zxx', 'h:zzz'], { left: 507, top: 498, pad: [6, 10, 4, 6], ih: 12, gap: 4, tp: 6 })
];

// ---------- text ----------
function rs(size, extra) { return Object.assign({ fontSize: size, fontFamily: FONT, fill: '#000', color: '#000' }, extra || {}); }
const richName = {
  m: rs(18, { lineHeight: 30 }),
  p: rs(12, { lineHeight: 12, verticalAlign: 'top' }),
  b: rs(12, { lineHeight: 12, verticalAlign: 'bottom' })
};
const richMu = {
  m: rs(16, { lineHeight: 28 }),
  b: rs(13, { lineHeight: 12, verticalAlign: 'bottom' })
};
function text(x, y, str, o) {
  o = o || {};
  const style = { text: str, fill: o.color || '#000', font: (o.size || 18) + 'px "' + FONT + '"',
    align: o.align || 'left', textAlign: o.align || 'left', verticalAlign: 'middle', textVerticalAlign: 'middle' };
  if (o.rich) style.rich = o.rich;
  return { type: 'text', x, y, rotation: o.rot || 0, silent: true, z: 100, style };
}
const muText = '{m|μ=E}{b|WP2}';
const up = Math.PI / 2;
const graphics = [
  text(188, 22, 'PrGeAl', { size: 25, align: 'center' }),
  text(90, 50, '(a)'), text(120, 50, 'circular shift current'),
  text(122, 82, muText, { rich: richMu }),
  text(85, 357, '(b)'), text(120, 357, 'linear shift current'),
  text(157, 379, muText, { rich: richMu }),
  text(82, 433, '(c)'), text(117, 436, muText, { rich: richMu }),
  text(185, 563, 'injection current', { align: 'center' }),
  text(188, 583, '{s|(ħ/τ}{m|=10 meV}{s|)}', { align: 'center', rich: {
    s: { fontSize: 18, fontFamily: 'Liberation Serif', fill: '#000' }, m: rs(18) } }),
  text(178, 637, 'Energy (eV)', { align: 'center' }),
  text(24, 115, '{m|Im(σ}{p|c;ab}{m|) (mA/V}{p|2}{m|)}', { align: 'center', rot: up, rich: richName }),
  text(24, 290, '{m|Re(σ}{p|c;ab}{m|) (mA/V}{p|2}{m|)}', { align: 'center', rot: up, rich: richName }),
  text(24, 505, '{m|σ}{p|c;ab}{m| (mA/V}{p|2}{m|)}', { align: 'center', rot: up, rich: richName }),
  text(314, 57, '{m|Energy (eV)}', { align: 'center', rot: up, rich: richName }),
  text(314, 168, '{m|g}{b|ab}{m| (10}{p|2}{m| Å}{p|2}{m|)}', { align: 'center', rot: up, rich: richName }),
  text(314, 292, '{m|F}{b|ab}{m| (10}{p|2}{m| Å}{p|2}{m|)}', { align: 'center', rot: up, rich: richName }),
  text(314, 418, '{m|Γ}{b|c;ab}{m| (10}{p|3}{m| Å}{p|3}{m|)}', { align: 'center', rot: up, rich: richName }),
  text(314, 542, '{m|Γ̃}{b|c;ab}{m| (10}{p|3}{m| Å}{p|3}{m|)}', { align: 'center', rot: up, rich: richName }),
  text(365, 32, '(d)'),
  text(428, 36, 'WP2', { color: RED, size: 17, align: 'center' }),
  text(478, 36, 'WP2', { color: RED, size: 17, align: 'center' }),
  text(571, 36, 'WP2', { color: RED, size: 17, align: 'center' }),
  text(368, 138, '(e)'), text(422, 142, muText, { rich: richMu }),
  text(370, 255, '(f)'), text(422, 262, muText, { rich: richMu }),
  text(370, 383, '(g)'), text(422, 438, muText, { rich: richMu }),
  text(370, 508, '(h)'), text(422, 532, muText, { rich: richMu })
];
cutNames.forEach((c, s) => {
  graphics.push(text(357 + (s + 0.5) * 96.5, 636, '{m|q}{b|' + c + '}{m|(2π/a)}', { align: 'center', rich: {
    m: rs(18, { lineHeight: 26 }), b: rs(13, { lineHeight: 12, verticalAlign: 'bottom' }) } }));
});

const chart = echarts.init(document.getElementById('chart'), null, { renderer: 'canvas' });
chart.setOption({
  animation: false,
  backgroundColor: '#fff',
  grid: grids,
  xAxis: xAxes,
  yAxis: yAxes,
  legend: legends,
  series,
  graphic: { elements: graphics }
});
</script>
</body>
</html>
